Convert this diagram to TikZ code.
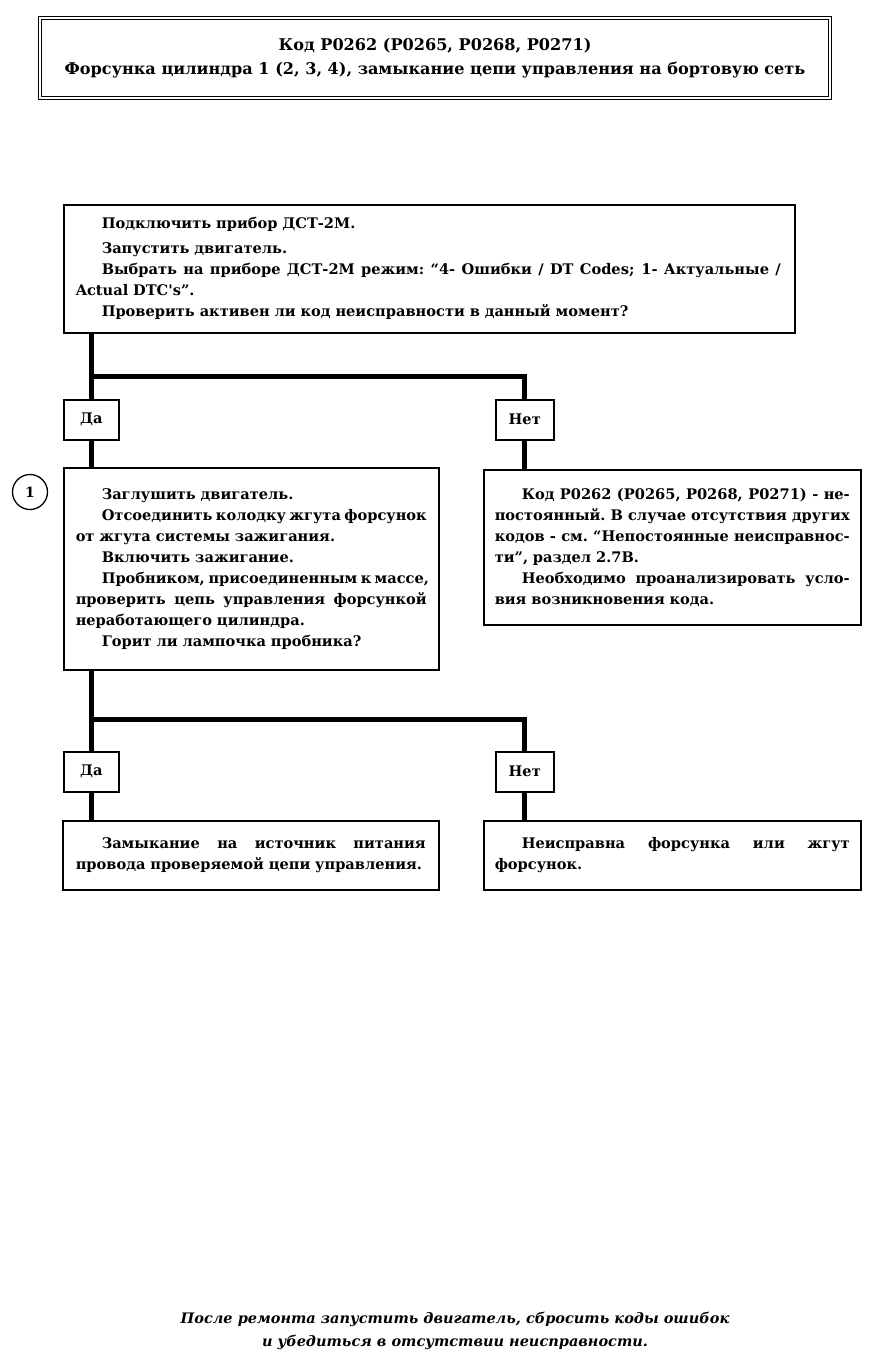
\documentclass[tikz,border=0pt]{standalone}
\usepackage{fontspec}
\setmainfont{DejaVu Serif}
\newfontfamily\wide{DejaVu Serif}
\newcommand\jl[2]{\leavevmode\hbox to #1{\spaceskip=\fontdimen2\font plus 1fil minus \fontdimen4\font\relax\xspaceskip=\spaceskip\relax #2}}
\newcommand\ind{\hspace*{26pt}}
\begin{document}
\begin{tikzpicture}[x=1pt,y=-1pt,
  box/.style={draw, line width=1.5pt, inner xsep=12pt, inner ysep=0pt, align=left, anchor=north west},
  widef/.style={font=\wide\bfseries\fontsize{14.6}{21}\selectfont},
  yn/.style={draw, line width=1.5pt, inner sep=0pt, minimum height=40pt, anchor=north west},
  conn/.style={line width=5pt}]
\useasboundingbox (0,0) rectangle (874,1369);
% title
\node[draw, double, double distance=2.2pt, line width=1.2pt, minimum width=790pt, minimum height=80pt,
  align=center, font=\wide\bfseries\fontsize{16.1}{24}\selectfont] (title) at (435,58)
  {Код P0262 (P0265, P0268, P0271)\\Форсунка цилиндра 1 (2, 3, 4), замыкание цепи управления на бортовую сеть};
% box 1
\node[box, widef, text width=707pt, minimum width=731pt, minimum height=128pt] (b1) at (63,204)
  {\noindent\ind Подключить прибор ДСТ-2М.\\[4pt]
   \ind Запустить двигатель.\\
   \jl{705pt}{\ind Выбрать на приборе ДСТ-2М режим: “4- Ошибки / DT Codes; 1- Актуальные /}\\
   Actual DTC's”.\\
   \ind Проверить активен ли код неисправности в данный момент?};
% yes / no 1
\node[yn, widef, minimum width=55pt] (da1) at (63,399) {Да};
\node[yn, widef, minimum width=58pt] (net1) at (495,399) {Нет};
\coordinate (j1) at (0,376);
% box 2
\node[box, widef, text width=351pt, minimum width=375pt, minimum height=202pt] (b2) at (63,467)
  {\noindent\ind Заглушить двигатель.\\
   \jl{351pt}{\ind Отсоединить колодку жгута форсунок}\\
   от жгута системы зажигания.\\
   \ind Включить зажигание.\\
   \jl{351pt}{\ind Пробником, присоединенным к массе,}\\
   \jl{351pt}{проверить цепь управления форсункой}\\
   неработающего цилиндра.\\
   \ind Горит ли лампочка пробника?};
\node[draw, circle, line width=1.3pt, minimum size=35pt, inner sep=0pt, font=\wide\bfseries\fontsize{14}{16}\selectfont] (c1) at (30,492) {1};
% box 3
\node[box, widef, inner xsep=11pt, text width=355pt, minimum width=377pt, minimum height=155pt] (b3) at (483,469)
  {\noindent\jl{355pt}{\hspace*{27pt}Код P0262 (P0265, P0268, P0271) - не-}\\
   \jl{355pt}{постоянный. В случае отсутствия других}\\
   \jl{355pt}{кодов - см. “Непостоянные неисправнос-}\\
   ти”, раздел 2.7В.\\
   \jl{355pt}{\hspace*{27pt}Необходимо проанализировать усло-}\\
   вия возникновения кода.};
% yes / no 2
\node[yn, widef, minimum width=55pt] (da2) at (63,751) {Да};
\node[yn, widef, minimum width=58pt] (net2) at (495,751) {Нет};
\coordinate (j2) at (0,719);
% box 4, 5
\node[box, widef, inner xsep=13pt, text width=350pt, minimum width=376pt, minimum height=69pt] (b4) at (62,820)
  {\noindent\jl{350pt}{\hspace*{26pt}Замыкание на источник питания}\\
   провода проверяемой цепи управления.};
\node[box, widef, inner xsep=11pt, text width=355pt, minimum width=377pt, minimum height=69pt] (b5) at (483,820)
  {\noindent\jl{355pt}{\hspace*{27pt}Неисправна форсунка или жгут}\\
   форсунок.};
% connectors
\draw[conn] (da1.north |- b1.south) -- (da1.north);
\draw[conn] (da1.north |- j1) -| (net1.north);
\draw[conn] (da1.south) -- (da1.south |- b2.north);
\draw[conn] (net1.south) -- (net1.south |- b3.north);
\draw[conn] (da2.north |- b2.south) -- (da2.north);
\draw[conn] (da2.north |- j2) -| (net2.north);
\draw[conn] (da2.south) -- (da2.south |- b4.north);
\draw[conn] (net2.south) -- (net2.south |- b5.north);
% footer
\node[align=center, font=\wide\bfseries\itshape\fontsize{14.5}{23}\selectfont] (foot) at (455,1331)
  {После ремонта запустить двигатель, сбросить коды ошибок\\и убедиться в отсутствии неисправности.};
\end{tikzpicture}
\end{document}
